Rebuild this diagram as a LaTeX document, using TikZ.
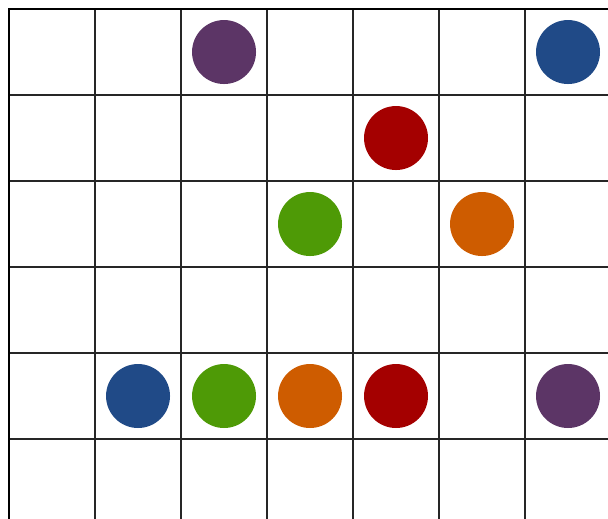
\documentclass[tikz,border=0pt]{standalone}
\usepackage{tikz}

\definecolor{plum}{HTML}{5C3566}
\definecolor{sky}{HTML}{204A87}
\definecolor{scarlet}{HTML}{A40000}
\definecolor{leaf}{HTML}{4E9A06}
\definecolor{tangerine}{HTML}{CE5C00}

\begin{document}
\begin{tikzpicture}[x=1cm,y=1cm,
 disc/.style={circle,minimum size=0.744cm,inner sep=0pt},
 cell/.style={line width=0.4pt,black!85},
 rim/.style={line width=0.9pt,black}]
\useasboundingbox (-0.105,0.105) rectangle (6.965,-5.93);
\clip (-0.105,0.105) rectangle (6.965,-5.93);
% board
\draw[cell] (0,0) grid (7,-6);
\draw[rim] (0,-6) -- (0,0) -- (7,0);
% top row
\node[disc,fill=plum] (p1) at (2.5,-0.5) {};
\node[disc,fill=sky] (b1) at (6.5,-0.5) {};
\node[disc,fill=scarlet] (r1) at (4.5,-1.5) {};
\node[disc,fill=leaf] (g1) at (3.5,-2.5) {};
\node[disc,fill=tangerine] (o1) at (5.5,-2.5) {};
% bottom row
\node[disc,fill=sky] (b2) at (1.5,-4.5) {};
\node[disc,fill=leaf] (g2) at (2.5,-4.5) {};
\node[disc,fill=tangerine] (o2) at (3.5,-4.5) {};
\node[disc,fill=scarlet] (r2) at (4.5,-4.5) {};
\node[disc,fill=plum] (p2) at (6.5,-4.5) {};
\end{tikzpicture}
\end{document}
